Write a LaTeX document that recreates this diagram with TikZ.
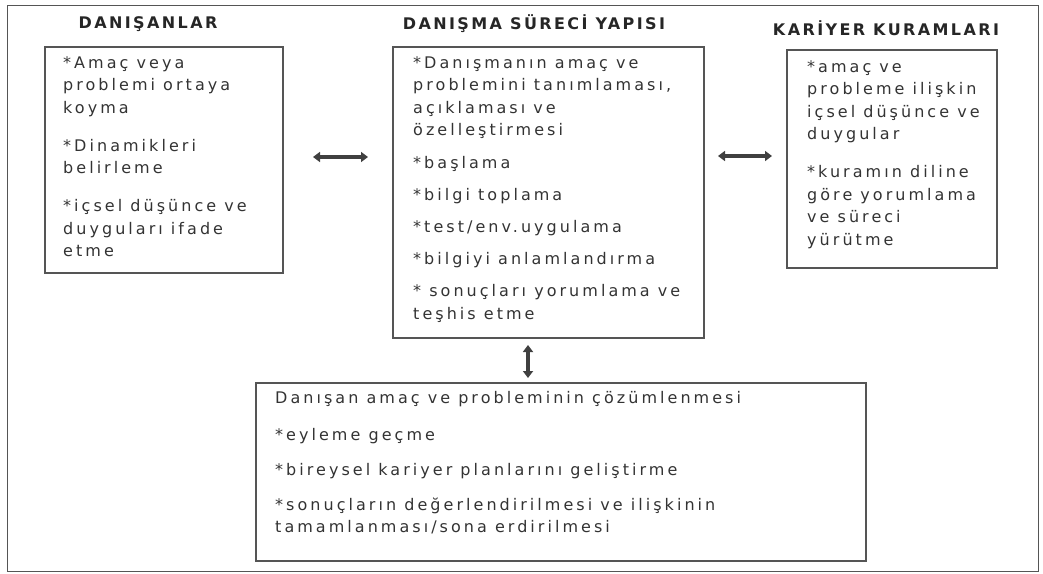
\documentclass[tikz,border=0pt]{standalone}
\usepackage{fontspec}
\setmainfont{DejaVu Sans}
\newfontfamily\bodyfont[LetterSpace=19]{DejaVu Sans}
\newfontfamily\headfont[LetterSpace=15]{DejaVu Sans Bold}
\usetikzlibrary{arrows.meta}
\definecolor{framegray}{HTML}{555555}
\definecolor{textgray}{HTML}{333333}
\definecolor{arrowgray}{HTML}{404040}
\tikzset{
  box/.style={draw=framegray, line width=1.5pt, inner sep=0pt},
  bodytext/.style={anchor=north west, inner sep=0pt, align=left, text=textgray,
    font=\bodyfont\fontsize{16}{22.5}\selectfont},
  heading/.style={inner sep=0pt, text=black!85, font=\headfont\fontsize{16}{19}\selectfont},
  dblarrow/.style={draw=arrowgray, line width=3.5pt,
    {Triangle[width=10pt,length=7pt]}-{Triangle[width=10pt,length=7pt]}}
}
\begin{document}
\begin{tikzpicture}[x=1pt,y=-1pt]
\useasboundingbox (0,0) rectangle (1043,573);
\draw[framegray, line width=1pt] (7,5) rectangle (1038,571);

% boxes
\node[box, minimum width=238pt, minimum height=226pt] (left) at (164,160) {};
\node[box, minimum width=311pt, minimum height=291pt] (mid) at (548.5,192.5) {};
\node[box, minimum width=210pt, minimum height=218pt] (right) at (892,159) {};
\node[box, minimum width=610pt, minimum height=178pt] (bottom) at (561,472) {};

% headings
\node[heading] (h1) at (148,24) {DANIŞANLAR};
\node[heading] (h2) at (534,24) {DANIŞMA SÜRECİ YAPISI};
\node[heading] (h3) at (886,28) {KARİYER KURAMLARI};

% texts
\node[bodytext] (t1) at (63,56) {*Amaç veya\\problemi ortaya\\koyma\\[15.5pt]*Dinamikleri\\belirleme\\[15.5pt]*içsel düşünce ve\\duyguları ifade\\etme};
\node[bodytext] (t2) at (413,56) {*Danışmanın amaç ve\\problemini tanımlaması,\\açıklaması ve\\özelleştirmesi\\[10pt]*başlama\\[10pt]*bilgi toplama\\[9pt]*test/env.uygulama\\[9.5pt]*bilgiyi anlamlandırma\\[10pt]* sonuçları yorumlama ve\\teşhis etme};
\node[bodytext] (t3) at (807,60) {*amaç ve\\probleme ilişkin\\içsel düşünce ve\\duygular\\[15.5pt]*kuramın diline\\göre yorumlama\\ve süreci\\yürütme};
\node[bodytext] (t4) at (275,391) {Danışan amaç ve probleminin çözümlenmesi\\[14.5pt]*eyleme geçme\\[12.5pt]*bireysel kariyer planlarını geliştirme\\[12.5pt]*sonuçların değerlendirilmesi ve ilişkinin\\tamamlanması/sona erdirilmesi};

% arrows
\coordinate (a1) at (313,157);
\coordinate (a2) at (368,157);
\coordinate (b1) at (718,156);
\coordinate (b2) at (772,156);
\coordinate (c1) at (528,345);
\coordinate (c2) at (528,378);
\draw[dblarrow] (a1) -- (a2);
\draw[dblarrow] (b1) -- (b2);
\draw[dblarrow, line width=4.5pt] (c1) -- (c2);
\end{tikzpicture}
\end{document}
